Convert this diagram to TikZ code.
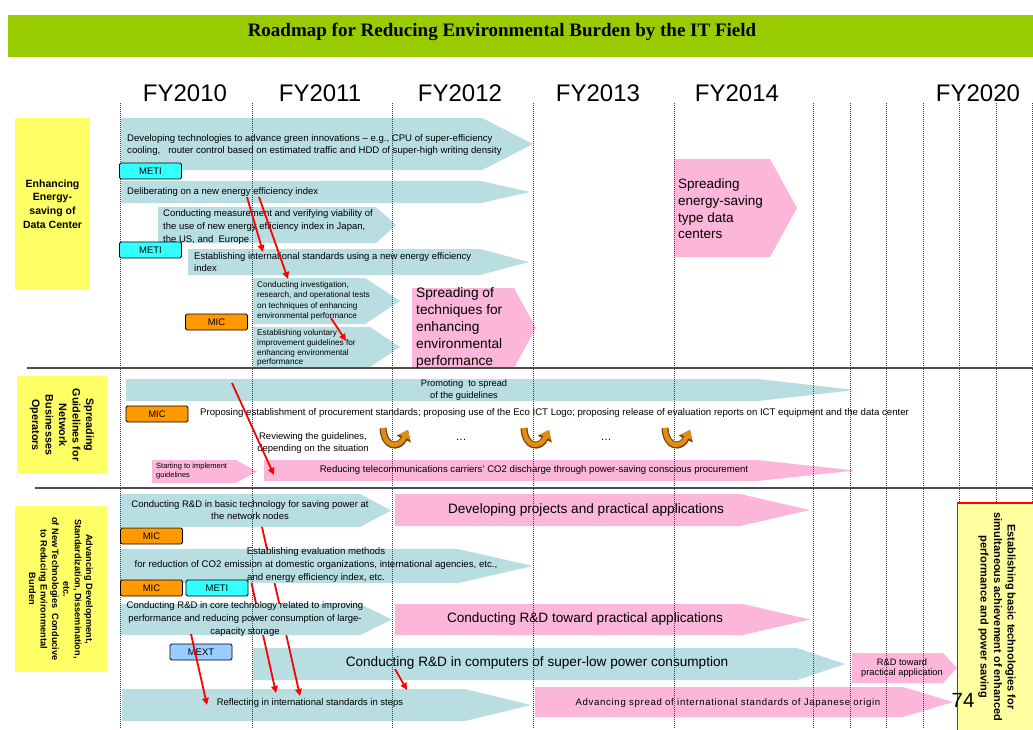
\documentclass[tikz,border=0pt]{standalone}
\usepackage{fontspec}
\setmainfont{Liberation Sans}
\newfontfamily\titlefont{Liberation Serif}
\usetikzlibrary{arrows.meta}
\definecolor{teal1}{RGB}{184,222,226}
\definecolor{pink1}{RGB}{252,182,218}
\definecolor{titlegreen}{RGB}{153,204,0}
\definecolor{ylw}{RGB}{255,255,102}
\definecolor{ylw2}{RGB}{255,255,160}
\definecolor{cyanbox}{RGB}{51,255,255}
\definecolor{orangebox}{RGB}{255,153,0}
\definecolor{mextbox}{RGB}{153,204,255}
\definecolor{uturnfill}{RGB}{226,140,20}
\definecolor{uturndark}{RGB}{110,65,10}
\newcommand{\pent}[6]{\fill[#6] (#1,#2) -- (#3,#2) -- (#4,{(#2+#5)/2}) -- (#3,#5) -- (#1,#5) -- cycle;}
\newcommand{\fs}[2]{\fontsize{#1}{#2}\selectfont}
\tikzset{
  agency/.style={draw=black, line width=0.9pt, rounded corners=1.5pt, minimum width=62pt, minimum height=16pt, inner sep=0pt, font=\fs{9.5}{10}},
  txt/.style={inner sep=0pt, font=\fs{9.5}{12.6}},
  year/.style={inner sep=0pt, font=\fs{24}{26}},
  redarrow/.style={red, line width=1.8pt, -{Triangle[length=7pt,width=6.5pt]}},
  gridline/.style={black!75, line width=0.9pt, dash pattern=on 1pt off 1pt},
  sep/.style={black!70, line width=2pt},
  uturn/.pic={
    \draw[line width=7pt, uturndark, -{Triangle[length=10pt,width=15pt]}] (-9,-9) .. controls (-8,11) and (7,12) .. (16,-7);
    \draw[line width=4.6pt, uturnfill, -{Triangle[length=8pt,width=11.5pt]}] (-9,-9) .. controls (-8,11) and (7,12) .. (16,-7);
  }
}
\begin{document}
\begin{tikzpicture}[x=1pt,y=-1pt]
\useasboundingbox (0,0) rectangle (1033,729);
\fill[white] (0,0) rectangle (1033,729);
% title
\fill[titlegreen] (8,15) rectangle (1033,57);
\node[inner sep=0pt, font=\titlefont\bfseries\fs{19}{21}] (title) at (502,32) {Roadmap for Reducing Environmental Burden by the IT Field};
% years
\node[year] (y10) at (185,93) {FY2010};
\node[year] (y11) at (320,93) {FY2011};
\node[year] (y12) at (460,93) {FY2012};
\node[year] (y13) at (598,93) {FY2013};
\node[year] (y14) at (737,93) {FY2014};
\node[year] (y20) at (978,93) {FY2020};
% coordinates for red arrows
\coordinate (r1a) at (247,197); \coordinate (r1b) at (263,252);
\coordinate (r2a) at (259,197); \coordinate (r2b) at (288,279);
\coordinate (r3a) at (331,318); \coordinate (r3b) at (346,341);
\coordinate (r4a) at (232,383); \coordinate (r4b) at (274,475);
\coordinate (r5a) at (262,527); \coordinate (r5b) at (300,696);
\coordinate (r6a) at (251,581); \coordinate (r6b) at (276,693);
\coordinate (r7a) at (191,634); \coordinate (r7b) at (207,705);
\coordinate (r8a) at (395,669); \coordinate (r8b) at (407,690);
% ---------- section 1 shapes
\pent{121}{118}{482}{533}{170}{teal1}
\pent{121}{181}{481}{530}{203}{teal1}
\pent{158}{207}{376}{396}{243}{teal1}
\pent{188}{249}{480}{529}{275}{teal1}
\pent{253}{278}{365}{400}{324}{teal1}
\pent{253}{327}{370}{400}{367}{teal1}
\pent{412}{288}{514}{536}{368}{pink1}
\pent{674}{159}{770}{797}{257}{pink1}
% ---------- section 2 shapes
\pent{126}{379}{758}{855}{401}{teal1}
\pent{152}{460}{236}{257}{483}{pink1}
\pent{264}{460}{757}{855}{481}{pink1}
% ---------- section 3 shapes
\pent{120}{494}{360}{391}{527}{teal1}
\pent{395}{494}{740}{810}{526}{pink1}
\pent{395}{604}{743}{810}{635}{pink1}
\pent{253}{648}{797}{845}{680}{teal1}
\pent{852}{653}{943}{957}{683}{pink1}
\pent{122}{689}{465}{531}{721}{teal1}
\pent{535}{687}{903}{953}{717}{pink1}
% red lines partly hidden behind the two middle arrows
\draw[redarrow] (r5a) -- (r5b);
\draw[redarrow] (r6a) -- (r6b);
\pent{120}{549}{458}{533}{583}{teal1}
\pent{120}{604}{360}{392}{635}{teal1}
% grid lines
\foreach \gx in {120,252,392,533,674,813,850,886,923,959,996,1032}
  \draw[gridline] (\gx,103) -- (\gx,729);
% separators
\draw[sep] (27,368) -- (1033,368);
\draw[sep] (35,488) -- (1033,488);
% left boxes
\node[fill=ylw, minimum width=75pt, minimum height=172pt, inner sep=0pt, align=center, font=\bfseries\fs{10.5}{13.8}] (lb1) at (52.5,204) {Enhancing\\Energy-\\saving of\\Data Center};
\node[fill=ylw, rotate=-90, minimum width=98pt, minimum height=90pt, inner sep=0pt, align=center, font=\bfseries\fs{10.8}{13.5}] (lb2) at (62,425) {Spreading\\Guidelines for\\Network\\Businesses\\Operators};
\node[fill=ylw, rotate=-90, minimum width=166pt, minimum height=92pt, inner sep=0pt, align=center, font=\bfseries\fs{9.2}{11.4}] (lb3) at (61,589) {Advancing Development,\\Standardization, Dissemination,\\etc.\\of New Technologies\ \ Conducive\\to Reducing Environmental\\Burden};
% right box
\draw[red, fill=ylw2, line width=1.5pt] (957.5,503) rectangle (1045,740);
\node[rotate=-90, inner sep=0pt, align=center, font=\bfseries\fs{11}{13.5}] (rb) at (997,617) {Establishing basic technologies for\\simultaneous achievement of enhanced\\performance and power saving};
% ---------- section 1 texts
\node[txt, anchor=west, align=left, font=\fs{9.6}{12.8}] (t1) at (127,145) {Developing technologies to advance green innovations -- e.g., CPU of super-efficiency\\cooling,\ \ \ router control based on estimated traffic and HDD of super-high writing density};
\node[txt, anchor=west] (t2) at (127,192) {Deliberating on a new energy efficiency index};
\node[txt, anchor=west, align=left] (t3) at (163,227) {Conducting measurement and verifying viability of\\the use of new energy efficiency index in Japan,\\the US, and\ \ Europe};
\node[txt, anchor=west, align=left] (t4) at (194,262) {Establishing international standards using a new energy efficiency\\index};
\node[txt, anchor=west, align=left, font=\fs{8.2}{10.3}] (t5) at (257,301) {Conducting investigation,\\research, and operational tests\\on techniques of enhancing\\environmental performance};
\node[txt, anchor=west, align=left, font=\fs{8.2}{9.8}] (t6) at (257,348) {Establishing voluntary\\improvement guidelines for\\enhancing environmental\\performance};
\node[txt, anchor=west, align=left, font=\fs{13.7}{16.8}] (t7) at (416,328) {Spreading of\\techniques for\\enhancing\\environmental\\performance};
\node[txt, anchor=west, align=left, font=\fs{13.5}{16.7}] (t8) at (678,209) {Spreading\\energy-saving\\type data\\centers};
\node[agency, fill=cyanbox] (meti1) at (150.5,171) {METI};
\node[agency, fill=cyanbox] (meti2) at (150.5,250) {METI};
\node[agency, fill=orangebox] (mic1) at (216.5,322) {MIC};
% ---------- section 2 texts
\node[txt, align=center, font=\fs{9.3}{11.5}] (t9) at (464,390) {Promoting\ \ to spread\\of the guidelines};
\node[agency, fill=orangebox] (mic2) at (157,414) {MIC};
\node[txt, anchor=west, font=\fs{9.63}{11}] (t10) at (200,413) {Proposing establishment of procurement standards; proposing use of the Eco ICT Logo; proposing release of evaluation reports on ICT equipment and the data center};
\node[txt, align=center, font=\fs{9.5}{12.5}] (t11) at (313,443) {Reviewing the guidelines,\\depending on the situation};
\pic at (392,437) {uturn};
\pic at (533,437) {uturn};
\pic at (674,437) {uturn};
\node[txt, font=\fs{11}{12}] (dots1) at (461,440) {\dots};
\node[txt, font=\fs{11}{12}] (dots2) at (606,440) {\dots};
\node[txt, anchor=west, align=left, font=\fs{7.5}{9.5}] (t12) at (156,471) {Starting to implement\\guidelines};
\node[txt, font=\fs{9.6}{11}] (t13) at (534,470) {Reducing telecommunications carriers' CO2 discharge through power-saving conscious procurement};
% ---------- section 3 texts
\node[txt, align=center] (t14) at (250,510) {Conducting R\&D in basic technology for saving power at\\the network nodes};
\node[txt, font=\fs{13.6}{15}] (t15) at (586,510) {Developing projects and practical applications};
\node[agency, fill=orangebox] (mic3) at (151.5,536) {MIC};
\node[txt, align=center, font=\fs{9.65}{12.6}] (t16) at (316,565) {Establishing evaluation methods\\for reduction of CO2 emission at domestic organizations, international agencies, etc.,\\and energy efficiency index, etc.};
\node[agency, fill=orangebox] (mic4) at (151.5,588) {MIC};
\node[agency, fill=cyanbox] (meti3) at (217,588) {METI};
\node[txt, align=center] (t17) at (245,619) {Conducting R\&D in core technology related to improving\\performance and reducing power consumption of large-\\capacity storage};
\node[txt, font=\fs{13.6}{15}] (t18) at (585,619) {Conducting R\&D toward practical applications};
\node[agency, fill=mextbox] (mext) at (201,652) {MEXT};
\node[txt, font=\fs{13.6}{15}] (t19) at (537,663) {Conducting R\&D in computers of super-low power consumption};
\node[txt, align=center, font=\fs{9.3}{10.5}] (t20) at (902,668) {R\&D toward\\practical application};
\node[txt] (t21) at (310,703) {Reflecting in international standards in steps};
\node[txt, font=\fs{9.6}{11}\addfontfeatures{LetterSpace=7}] (t22) at (728,703) {Advancing spread of international standards of Japanese origin};
\node[txt, font=\fs{20.5}{22}] (n74) at (963,700) {74};
% visible red arrows
\draw[redarrow] (r1a) -- (r1b);
\draw[redarrow] (r2a) -- (r2b);
\draw[redarrow] (r3a) -- (r3b);
\draw[redarrow] (r4a) -- (r4b);
\draw[redarrow] (r7a) -- (r7b);
\draw[redarrow] (r8a) -- (r8b);
\end{tikzpicture}
\end{document}
